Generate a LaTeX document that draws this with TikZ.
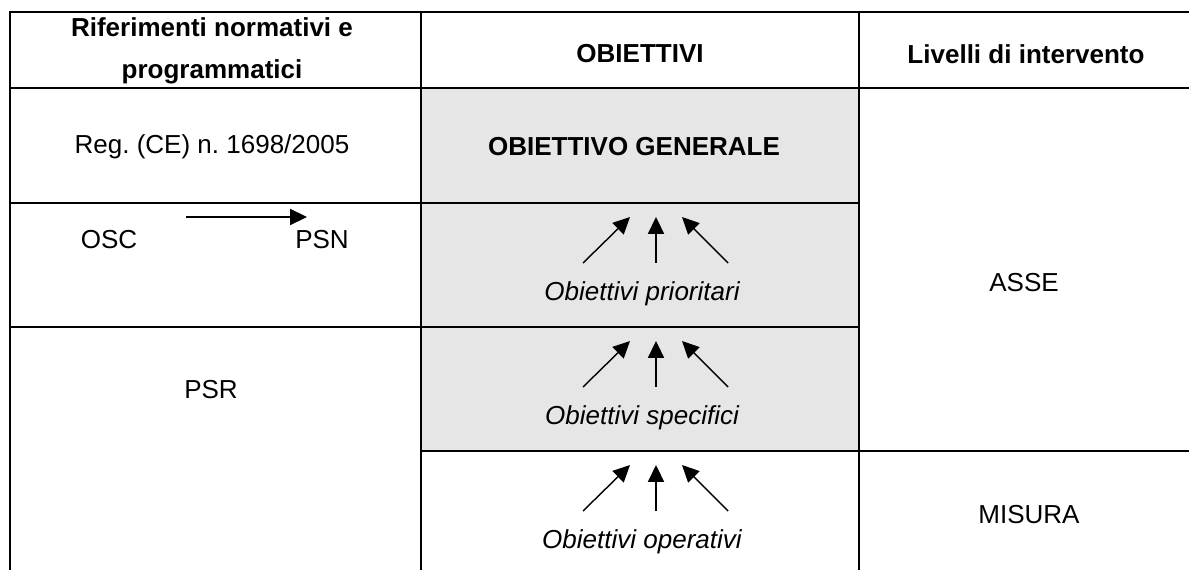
\documentclass[tikz,border=0pt]{standalone}
\usepackage{fontspec}
\setmainfont{Liberation Sans}
\usetikzlibrary{arrows.meta, positioning}
\definecolor{cellgrey}{RGB}{230,230,230}
\frenchspacing

\begin{document}
\begin{tikzpicture}[
    x=0.025cm, y=-0.025cm,
    grid/.style={line width=2.1pt},
    txt/.style={font=\fontsize{18.5}{30}\selectfont, inner sep=0pt, align=center},
    hdr/.style={txt, font=\fontsize{18.5}{30}\selectfont\bfseries},
    lvl/.style={txt, font=\fontsize{18.5}{30}\selectfont\itshape},
    up/.style={line width=1pt, -{Triangle[length=0.42cm, width=0.4cm]}}
]
    \useasboundingbox (0,0) rectangle (1189,570);

    % grey cells
    \fill[cellgrey] (421,88) rectangle (859,451);

    % table lines
    \draw[grid] (10,570) -- (10,12) -- (1189,12);
    \draw[grid] (10,88) -- (1189,88);
    \draw[grid] (10,203) -- (859,203);
    \draw[grid] (10,327) -- (859,327);
    \draw[grid] (421,451) -- (1189,451);
    \draw[grid] (421,12) -- (421,570);
    \draw[grid] (859,12) -- (859,570);

    % header
    \node[hdr] (riferimenti) at (212,51) {Riferimenti normativi e\\programmatici};
    \node[hdr] (obiettivi) at (640,54) {OBIETTIVI};
    \node[hdr] (livelli) at (1026,54) {Livelli di intervento};

    % references
    \node[txt] (reg) at (212,147) {Reg. (CE) n. 1698/2005};
    \node[txt] (osc) at (109,240) {OSC};
    \node[txt] (psn) at (322,240) {PSN};
    \node[txt] (psr) at (211,390) {PSR};
    \coordinate (osc-a) at ([shift={(77,-23)}]osc.center);
    \coordinate (psn-a) at ([shift={(-15,-23)}]psn.center);
    \draw[up] (osc-a) -- (psn-a);

    % objectives
    \node[hdr] (generale) at (634,147) {OBIETTIVO GENERALE};
    \node[lvl] (prio) at (642,294) {Obiettivi prioritari};
    \node[lvl] (spec) at (642,418) {Obiettivi specifici};
    \node[lvl] (oper) at (642,542) {Obiettivi operativi};
    \foreach \n in {prio, spec, oper} {
        \coordinate (\n-l0) at ([shift={(-59,-31)}]\n.center);
        \coordinate (\n-l1) at ([shift={(-12,-77)}]\n.center);
        \coordinate (\n-m0) at ([shift={(14,-31)}]\n.center);
        \coordinate (\n-m1) at ([shift={(14,-77)}]\n.center);
        \coordinate (\n-r0) at ([shift={(86,-31)}]\n.center);
        \coordinate (\n-r1) at ([shift={(40,-77)}]\n.center);
        \draw[up] (\n-l0) -- (\n-l1);
        \draw[up] (\n-m0) -- (\n-m1);
        \draw[up] (\n-r0) -- (\n-r1);
    }

    % levels
    \node[txt] (asse) at (1024,283) {ASSE};
    \node[txt] (misura) at (1029,515) {MISURA};
\end{tikzpicture}
\end{document}
